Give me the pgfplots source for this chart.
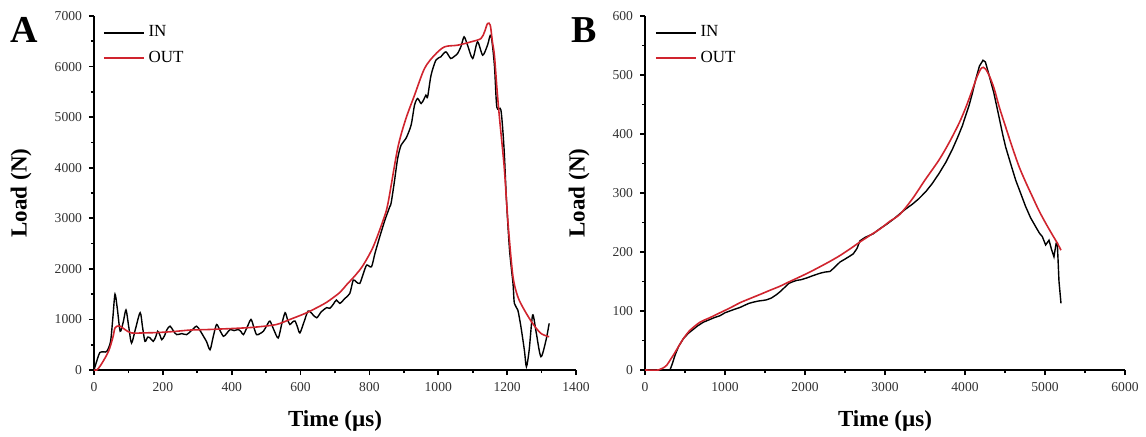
\documentclass[border=0pt]{standalone}
\usepackage{pgfplots}
\pgfplotsset{compat=1.18}
\usepackage{fontspec}
\setmainfont{Liberation Serif}
\definecolor{outred}{RGB}{208,36,46}
\pgfplotsset{
  myax/.style={
    scale only axis,
    height=177pt,
    axis x line*=bottom, axis y line*=left,
    axis line style={-, line width=1pt},
    tick align=outside, tick pos=left,
    major tick length=2.5pt, minor tick length=1.5pt,
    every tick/.style={black, line width=0.8pt},
    minor tick num=1,
    scaled ticks=false,
    /pgf/number format/assume math mode=true,
    /pgf/number format/1000 sep={},
    tick label style={font=\fontsize{6.8}{8}\selectfont, text=black!80},
    label style={font=\fontsize{11.5}{13}\selectfont\bfseries},
    xlabel={Time (µs)}, ylabel={Load (N)},
    x label style={at={(axis description cs:0.5,-0.144)}, anchor=center},
    legend cell align=left,
    legend image code/.code={\draw[#1, line width=0.75pt] (0pt,0pt) -- (20pt,0pt);},
    legend style={draw=none, fill=none, inner sep=0pt, anchor=north west,
      font=\fontsize{8.5}{10}\selectfont, row sep=1.5pt,
      /tikz/every even column/.append style={column sep=2.5pt}},
  }
}
\begin{document}
\begin{tikzpicture}
\useasboundingbox (-47pt,-33pt) rectangle (526pt,185pt);
\begin{axis}[myax, at={(0pt,0pt)}, anchor=origin, width=241pt,
  xmin=0, xmax=1400, ymin=0, ymax=7000,
  xtick={0,200,...,1400}, ytick={0,1000,...,7000},
  y label style={at={(axis description cs:-0.151,0.5)}, anchor=center},
  legend style={at={(axis description cs:0.018,0.985)}},
  after end axis/.code={\node[font=\fontsize{19}{21}\selectfont\bfseries] at (axis description cs:-0.145,0.96) {A};}]
\addplot[black, line width=0.7pt, smooth, tension=0.45] coordinates {
(0,0) (10,220) (17,347) (28,360) (37,367) (48,560) (55,1050) (61,1500) (68,1200) (76,767) (85,950)
(93,1187) (101,850) (109,533) (120,800) (134,1133) (141,850) (148,567) (156,650) (163,633)
(172,567) (179,650) (185,767) (191,700) (197,600) (205,680) (212,800) (221,867) (230,780)
(240,700) (255,720) (269,700) (283,780) (298,867) (308,780) (318,667) (327,560) (337,400)
(346,650) (356,900) (366,780) (376,667) (385,720) (395,800) (407,780) (419,800) (427,760)
(434,700) (445,850) (456,1000) (464,850) (472,700) (482,720) (492,767) (502,880) (511,967)
(522,800) (535,633) (545,900) (555,1133) (562,1000) (569,900) (577,950) (584,967) (591,850)
(598,733) (610,950) (622,1167) (635,1100) (647,1033) (660,1150) (676,1233) (685,1219)
(695,1300) (704,1383) (714,1318) (729,1417) (743,1515) (753,1779) (762,1740) (772,1713)
(782,1900) (792,2075) (806,2042) (816,2306) (830,2635) (845,2964) (859,3227) (863,3300)
(872,3700) (882,4183) (892,4447) (906,4578) (921,4842) (931,5237) (940,5369) (950,5270)
(958,5350) (964,5435) (969,5402) (979,5830) (993,6126) (1007,6192) (1022,6291) (1036,6160)
(1046,6200) (1056,6258) (1066,6400) (1075,6588) (1085,6423) (1100,6160) (1114,6489)
(1129,6225) (1143,6423) (1153,6621) (1163,6028) (1170,5200) (1182,5138) (1191,4381)
(1198,3360) (1207,2372) (1217,1713) (1221,1318) (1231,1186) (1240,856) (1250,395) (1256,66)
(1264,395) (1274,1087) (1284,757) (1298,263) (1313,593) (1322,922)
};
\addlegendentry{IN}
\addplot[outred, line width=0.8pt, smooth, tension=0.5] coordinates {
(0,0) (8,0) (20,100) (42,367) (55,650) (61,833) (70,870) (76,867) (90,800) (109,733)
(150,735) (182,740) (230,760) (279,790) (330,800) (376,813) (430,830) (472,850) (530,900)
(569,1000) (618,1133) (666,1300) (685,1383) (714,1533) (733,1680) (760,1880) (782,2075)
(811,2437) (840,2964) (854,3300) (882,4381) (905,4950) (931,5435) (960,5962) (989,6225)
(1018,6390) (1056,6423) (1095,6489) (1124,6555) (1135,6700) (1143,6851) (1151,6818)
(1157,6500) (1163,6225) (1170,5600) (1177,5040) (1191,4051) (1198,3360) (1205,2700)
(1217,1845) (1231,1449) (1250,1186) (1274,922) (1298,724) (1322,658)
};
\addlegendentry{OUT}
\end{axis}
\begin{axis}[myax, at={(275.5pt,0pt)}, anchor=origin, width=240pt,
  xmin=0, xmax=6000, ymin=0, ymax=600,
  xtick={0,1000,...,6000}, ytick={0,100,...,600},
  y label style={at={(axis description cs:-0.1375,0.5)}, anchor=center},
  legend style={at={(axis description cs:0.02,0.985)}},
  after end axis/.code={\node[font=\fontsize{19}{21}\selectfont\bfseries] at (axis description cs:-0.127,0.96) {B};}]
\addplot[black, line width=0.7pt] coordinates {
(0,0) (312,0) (340,10) (375,25) (420,40) (479,53) (540,62) (604,69) (660,75) (729,81)
(800,85) (870,89) (937,92) (1000,97) (1060,100) (1120,103) (1187,106) (1250,110) (1300,113)
(1354,115) (1420,117) (1480,118) (1521,119) (1580,122) (1646,128) (1700,134) (1760,142)
(1800,147) (1854,150) (1900,152) (1950,153) (2021,156) (2100,160) (2187,164) (2250,166)
(2312,167) (2370,174) (2437,183) (2500,188) (2560,193) (2604,197) (2650,206) (2687,219)
(2754,225) (2854,231) (2930,239) (3021,247) (3100,255) (3187,265) (3260,273) (3342,281)
(3420,290) (3508,302) (3590,316) (3675,333) (3760,352) (3842,374) (3910,395) (3967,414)
(4010,432) (4050,448) (4090,468) (4133,492) (4180,515) (4225,525) (4255,522) (4280,510)
(4300,500) (4360,470) (4425,429) (4470,400) (4508,378) (4570,350) (4633,322) (4700,298)
(4758,277) (4820,258) (4883,243) (4930,232) (4967,226) (5008,212) (5050,220) (5080,205)
(5112,192) (5140,215) (5154,215) (5175,150) (5200,113)
};
\addlegendentry{IN}
\addplot[outred, line width=0.8pt, smooth, tension=0.5] coordinates {
(0,0) (167,0) (220,3) (271,8) (320,18) (354,25) (420,40) (479,53) (560,67) (687,81) (800,88)
(937,97) (1060,105) (1187,114) (1310,121) (1437,128) (1560,135) (1687,142) (1810,150)
(1937,158) (2060,166) (2187,175) (2310,184) (2437,194) (2560,205) (2687,217) (2810,228)
(2937,239) (3060,252) (3187,264) (3342,290) (3500,322) (3675,356) (3800,385) (3925,418)
(4010,445) (4092,475) (4150,497) (4196,510) (4230,513) (4258,510) (4300,500) (4362,478)
(4430,445) (4508,412) (4590,378) (4675,345) (4760,318) (4842,294) (4925,270) (5008,249)
(5080,232) (5154,215) (5200,203)
};
\addlegendentry{OUT}
\end{axis}
\end{tikzpicture}
\end{document}
